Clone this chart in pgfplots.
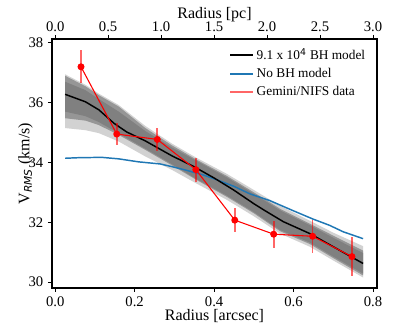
\documentclass[border=0pt]{standalone}
\usepackage{pgfplots}
\pgfplotsset{compat=1.18}
\usetikzlibrary{calc}
\usepackage{fontspec}
\setmainfont{Liberation Serif}
\newfontfamily\dejavu{DejaVu Sans}
\definecolor{mplblue}{RGB}{31,119,180}
\begin{document}
\begin{tikzpicture}
\pgfplotsset{
  common/.style={
    scale only axis, width=243.75pt, height=186.75pt,
    ymin=29.8, ymax=38.13,
    tick align=outside, major tick length=3pt,
    tick style={black, line width=0.6pt},
    every tick label/.append style={font=\fontsize{11}{13}\selectfont},
    label style={font=\fontsize{12}{14}\selectfont},
    /pgf/number format/assume math mode=true,
  }
}
\begin{axis}[common, name=top,
  xmin=-0.03, xmax=3.0375,
  axis x line*=top, axis y line=none,
  xtick={0,0.5,1,1.5,2,2.5,3},
  xticklabel style={yshift=-1pt, /pgf/number format/.cd, fixed, fixed zerofill, precision=1},
  xlabel={Radius [pc]}, xlabel style={yshift=-7pt},
]
\addplot[draw=none] coordinates {(0,34)};
\end{axis}
\begin{axis}[common, name=main,
  xmin=-0.008, xmax=0.81,
  axis line style={line width=1.1pt},
  xtick={0,0.2,0.4,0.6,0.8}, ytick={30,32,34,36,38},
  xtick pos=bottom, ytick pos=left,
  xticklabel style={/pgf/number format/.cd, fixed, fixed zerofill, precision=1},
  xlabel={Radius [arcsec]}, xlabel style={yshift=5pt},
  ylabel={V\textsubscript{\dejavu\itshape RMS} (km/s)},
  ylabel style={yshift=-10pt},
  legend style={at={(0.985,0.985)}, anchor=north east, draw=none, fill=none,
    font=\fontsize{10}{12}\selectfont, row sep=1pt},
  legend cell align=left,
]
% light envelope of models
\addplot[fill=gray!35, draw=none, forget plot] coordinates {
(0.025,36.95)(0.076,36.6)(0.11,36.3)(0.16,35.92)(0.227,35.22)(0.294,34.63)(0.355,34.16)(0.432,33.62)(0.5,33.08)(0.566,32.55)(0.641,32.05)(0.7,31.65)(0.775,31.2)
(0.775,30.15)(0.7,30.72)(0.641,31.18)(0.566,31.62)(0.5,32.2)(0.432,32.75)(0.355,33.3)(0.294,33.75)(0.227,34.2)(0.16,34.7)(0.11,34.98)(0.076,35.08)(0.025,35.15)
} -- cycle;
% mid band of models
\addplot[fill=gray!82, draw=none, forget plot] coordinates {
(0.025,36.9)(0.076,36.55)(0.11,36.25)(0.16,35.87)(0.227,35.15)(0.294,34.57)(0.355,34.1)(0.432,33.55)(0.5,33.0)(0.566,32.45)(0.641,31.95)(0.7,31.55)(0.775,31.05)
(0.775,30.22)(0.7,30.8)(0.641,31.27)(0.566,31.7)(0.5,32.3)(0.432,32.85)(0.355,33.42)(0.294,33.9)(0.227,34.42)(0.16,34.92)(0.11,35.25)(0.076,35.4)(0.025,35.48)
} -- cycle;
% core band of models
\addplot[fill=gray, draw=none, forget plot] coordinates {
(0.025,36.7)(0.076,36.42)(0.11,36.12)(0.16,35.7)(0.227,35.05)(0.294,34.5)(0.355,34.06)(0.432,33.5)(0.5,32.95)(0.566,32.4)(0.641,31.9)(0.7,31.48)(0.775,30.97)
(0.775,30.28)(0.7,30.85)(0.641,31.32)(0.566,31.74)(0.5,32.34)(0.432,32.89)(0.355,33.45)(0.294,33.94)(0.227,34.46)(0.16,34.97)(0.11,35.35)(0.076,35.55)(0.025,35.7)
} -- cycle;
% no BH model
\addplot[mplblue, line width=1.1pt, forget plot] coordinates {
(0.025,34.14)(0.06,34.16)(0.118,34.17)(0.16,34.12)(0.21,34.02)(0.264,33.95)(0.294,33.86)(0.33,33.74)(0.373,33.58)(0.407,33.42)(0.45,33.2)(0.49,32.95)(0.541,32.72)(0.6,32.38)(0.65,32.1)(0.69,31.9)(0.725,31.68)(0.775,31.45)
};
% BH model
\addplot[black, line width=1.1pt, forget plot] coordinates {
(0.025,36.28)(0.076,36.03)(0.11,35.76)(0.148,35.31)(0.18,35.02)(0.227,34.72)(0.294,34.22)(0.348,33.87)(0.4,33.48)(0.449,33.08)(0.5,32.62)(0.524,32.42)(0.574,32.02)(0.641,31.62)(0.7,31.18)(0.775,30.62)
};
% Gemini/NIFS data
\addplot[red, line width=0.8pt, mark=*, mark size=2.2pt, forget plot,
  error bars/.cd, y dir=both, y explicit, error mark=none,
  error bar style={red, opacity=0.6, line width=1.2pt}]
  coordinates {
(0.065,37.2) +- (0,0.55)
(0.155,34.95) +- (0,0.37)
(0.257,34.77) +- (0,0.38)
(0.354,33.76) +- (0,0.4)
(0.452,32.07) +- (0,0.4)
(0.55,31.6) +- (0,0.45)
(0.648,31.53) +- (0,0.55)
(0.747,30.85) +- (0,0.65)
};
\addlegendimage{black, line width=1.4pt}
\addlegendentry{9.1 x 10\textsuperscript{\dejavu 4} BH model}
\addlegendimage{mplblue, line width=1.4pt}
\addlegendentry{No BH model}
\addlegendimage{red!60, line width=1.4pt}
\addlegendentry{Gemini/NIFS data}
\end{axis}
\pgfresetboundingbox
\useasboundingbox ($(main.south west)+(-39pt,-27pt)$) rectangle ($(main.north east)+(31.5pt,29.25pt)$);
\end{tikzpicture}
\end{document}
